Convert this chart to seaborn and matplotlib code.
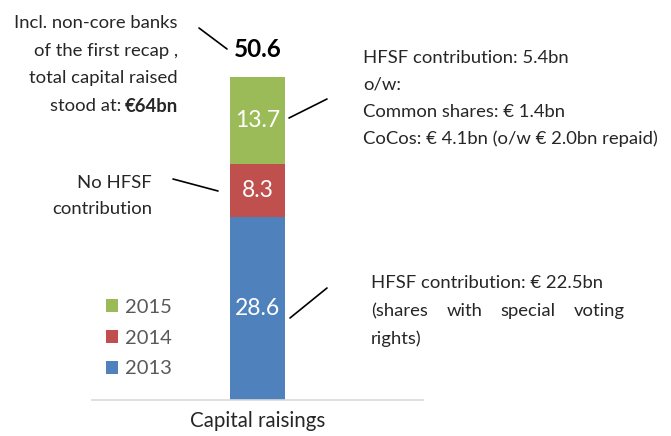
import numpy as np
import matplotlib
matplotlib.use("Agg")
import matplotlib.pyplot as plt
from matplotlib.lines import Line2D
import seaborn as sns

# data
category = "Capital raisings"
years = ["2013", "2014", "2015"]
raised = [28.6, 8.3, 13.7]
colors = ["#4F81BD", "#C0504D", "#9BBB59"]

left_note = ["Incl. non-core banks", "of the first recap ,", "total capital raised"]
left_note_end = ("stood at: ", "€64bn")
mid_note = ["No HFSF", "contribution"]
top_note = ["HFSF contribution: 5.4bn", "o/w:", "Common shares: € 1.4bn",
            "CoCos: € 4.1bn (o/w € 2.0bn repaid)"]
low_note = ["HFSF contribution: € 22.5bn", "(shares with special voting", "rights)"]

W, H = 671, 436
FS = 13.3

sns.set_theme(style="white")
plt.rcParams["font.family"] = ["Lato", "DejaVu Sans"]

fig = plt.figure(figsize=(W / 100, H / 100), dpi=100)
ax = fig.add_axes([92 / W, 1 - 400 / H, 331 / W, 383 / H])


def fx(px):
    return px / W


def fy(py):
    return 1 - py / H


# stacked bar, one seaborn call per year
bottoms = np.concatenate([[0], np.cumsum(raised)[:-1]])
for year, val, b, c in zip(years, raised, bottoms, colors):
    sns.barplot(x=[category], y=[val], bottom=b, color=c, width=0.169,
                saturation=1, errorbar=None, label=year, linewidth=0, ax=ax)

for cont, val in zip(ax.containers, raised):
    ax.bar_label(cont, labels=[f"{val:.1f}"], label_type="center",
                 color="white", fontsize=16.5)

total = sum(raised)
ax.annotate(f"{total:.1f}", xy=(0, total), xytext=(0, 20), textcoords="offset points",
            ha="center", va="center", fontsize=17.5, fontweight="bold", color="black")

ax.set_xlim(-0.5, 0.5)
ax.set_ylim(0, 60)
ax.set_yticks([])
ax.set_xlabel("")
ax.set_ylabel("")
sns.despine(ax=ax, left=True)
ax.spines["bottom"].set_color("#D9D9D9")
ax.spines["bottom"].set_linewidth(1.2)
# the reference crops this label at the bottom edge; keep it just inside
ax.tick_params(axis="x", length=0, pad=8, labelsize=14.8, labelcolor="#262626")

handles, labels = ax.get_legend_handles_labels()
ax.legend(handles[::-1], labels[::-1], loc="upper left",
          bbox_to_anchor=(fx(106), fy(299)), bbox_transform=fig.transFigure,
          frameon=False, fontsize=14.5, labelcolor="#595959",
          handlelength=0.62, handleheight=0.62, handletextpad=0.3,
          labelspacing=0.68, borderpad=0, borderaxespad=0)

# annotations
for i, line in enumerate(left_note):
    fig.text(fx(178), fy(23 + 27.7 * i), line, ha="right", va="center", fontsize=FS)
t_bold = fig.text(fx(178), fy(106), left_note_end[1], ha="right", va="center",
                  fontsize=FS, fontweight="bold")
fig.canvas.draw()
x0 = t_bold.get_window_extent().x0
fig.text((x0 - 4) / W, fy(106), left_note_end[0].strip(), ha="right", va="center", fontsize=FS)

for i, line in enumerate(mid_note):
    fig.text(fx(152), fy(183 + 26 * i), line, ha="right", va="center", fontsize=FS)

for i, line in enumerate(top_note):
    fig.text(fx(363), fy(58 + 27 * i), line, ha="left", va="center", fontsize=FS)

fig.text(fx(371), fy(283), low_note[0], ha="left", va="center", fontsize=FS)
fig.text(fx(371), fy(339), low_note[2], ha="left", va="center", fontsize=FS)
# justified middle line
words = low_note[1].split()
tmp = [fig.text(0, 0, w, fontsize=FS) for w in words]
fig.canvas.draw()
widths = [t.get_window_extent().width for t in tmp]
for t in tmp:
    t.remove()
gap = (625 - 371 - sum(widths)) / (len(words) - 1)
xpos = 371
for w, wd in zip(words, widths):
    fig.text(fx(xpos), fy(311), w, ha="left", va="center", fontsize=FS)
    xpos += wd + gap

segs = [((199, 28), (227, 49)), ((289, 118), (327, 99)),
        ((173, 179), (218, 191)), ((290, 318), (327, 288))]
for (xa, ya), (xb, yb) in segs:
    fig.add_artist(Line2D([fx(xa), fx(xb)], [fy(ya), fy(yb)], color="black", lw=1.2))

fig.savefig("out.png", dpi=100)
